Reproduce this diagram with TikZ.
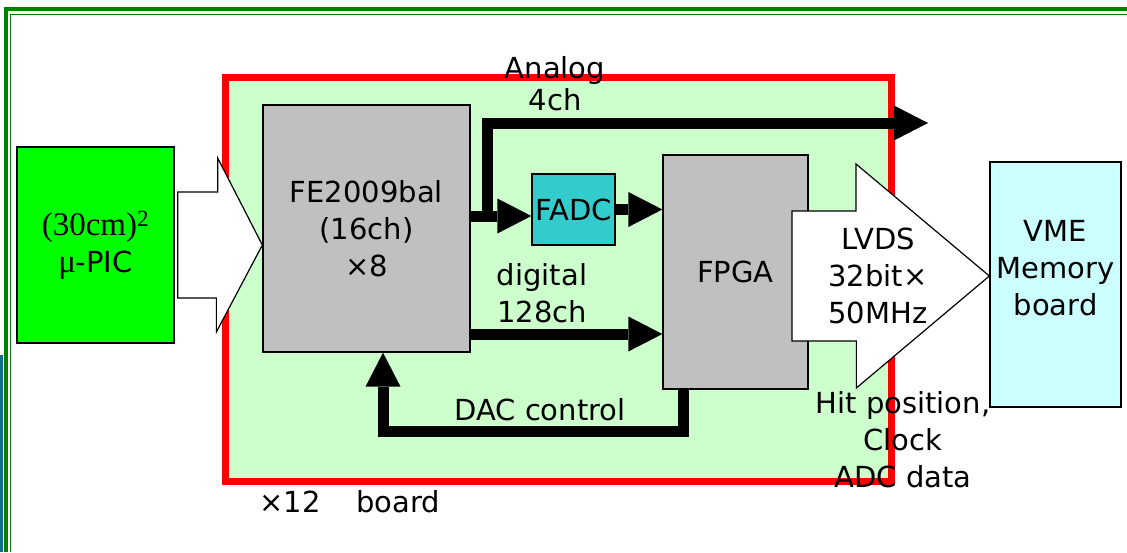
\documentclass[tikz,border=0pt]{standalone}
\usepackage{fontspec}
\setmainfont{DejaVu Sans}
\newfontfamily\timesfont{Liberation Serif}
\usetikzlibrary{arrows.meta,calc}
\definecolor{boardgreen}{HTML}{CCFFCC}
\definecolor{chipgray}{HTML}{C0C0C0}
\definecolor{picgreen}{HTML}{00FF00}
\definecolor{fadccyan}{HTML}{33CCCC}
\definecolor{vmecyan}{HTML}{CCFFFF}
\definecolor{framegreen}{HTML}{008000}
\definecolor{stripteal}{HTML}{126E8A}
\begin{document}
\begin{tikzpicture}[x=1pt,y=-1pt,
    block/.style={rectangle, draw=black, line width=1.3pt, fill=chipgray, inner sep=0pt, align=center, font=\fontsize{29}{37}\selectfont},
    lbl/.style={align=center, inner sep=0pt, font=\fontsize{29}{37}\selectfont},
    bus/.style={line width=11pt, line join=miter, -{Triangle[length=34pt,width=35pt,line width=0pt]}},
    hollow/.style={draw=black, line width=1.2pt, fill=white, line join=miter},
]
\useasboundingbox (0,0) rectangle (1127,552);
% slide frame
\fill[stripteal] (0,355) rectangle (3,552);
\draw[framegreen, line width=4pt] (5.5,552) -- (5.5,9) -- (1127,9);
\draw[framegreen, line width=1.5pt] (10.5,552) -- (10.5,14.5) -- (1127,14.5);

% board and blocks
\node[rectangle, draw=red, line width=7pt, fill=boardgreen, minimum width=665.5, minimum height=404] (BRD) at (558.25,279.5) {};
\node[block, fill=picgreen, minimum width=157, minimum height=196] (PIC) at (95.5,245) {{\fontsize{33}{37}\selectfont\timesfont(30cm)\textsuperscript{2}}\\{\fontsize{33}{37}\selectfont\timesfont μ}-PIC};
\node[block, minimum width=207, minimum height=247] (FE) at (366.5,228.5) {FE2009bal\\(16ch)\\×8};
\node[block, fill=fadccyan, minimum width=83, minimum height=71] (FADC) at (573.5,209.5) {FADC};
\node[block, minimum width=145, minimum height=234] (FPGA) at (735.5,272) {FPGA};
\node[block, fill=vmecyan, minimum width=131, minimum height=245] (VME) at (1055.5,284.5) {};
\node[lbl] (VMEtxt) at ($(VME.center)+(0,-16)$) {VME\\Memory\\ board};

\coordinate (split) at (487,216);
\coordinate (analog) at (928,123);
\coordinate (dig) at (560,334);
\coordinate (dacR) at (683,431);
\coordinate (dacL) at (383,431);
\coordinate (pin) at ($(PIC.east)+(3,0)$);
\coordinate (lvds) at (792,276);

% buses
\draw[bus] (FE.east |- split) -- (FADC.west |- split);
\draw[bus] ([yshift=-5.5pt]split) |- (analog);
\draw[bus] (FADC.east) -- (FADC.east -| FPGA.west);
\draw[bus] (FE.east |- dig) -- (FPGA.west |- dig);
\draw[bus] (FPGA.south -| dacR) -- (dacR) -- (dacL) -- (dacL |- FE.south);

% wide arrows
\draw[hollow] ($(pin)+(0,-53)$) -- ++(40,0) -- ++(0,-34) -- (pin -| FE.west)
  -- ($(pin -| FE.west)+(-46,87)$) -- ++(0,-34) -- ($(pin)+(0,53)$) -- cycle;
\draw[hollow] ($(lvds)+(0,-65)$) -- ++(64,0) -- ++(0,-47) -- (lvds -| VME.west)
  -- ($(lvds -| VME.west)+(-133,112)$) -- ++(0,-47) -- ($(lvds)+(0,65)$) -- cycle;

% labels
\node[lbl] (ANA) at (555,84) {Analog\\[-5pt]4ch};
\node[lbl] (DIG) at (542,293) {digital\\128ch};
\node[lbl] (DAC) at (540,410) {DAC control};
\node[lbl] (LVDS) at (878,276) {LVDS\\32bit×\\ 50MHz};
\node[lbl] (HIT) at (903,440) {Hit position,\\Clock\\ADC data};
\node[lbl] (MUL) at (290,502) {×12};
\node[lbl] (BRDtxt) at (398,502) {board};
\end{tikzpicture}
\end{document}
